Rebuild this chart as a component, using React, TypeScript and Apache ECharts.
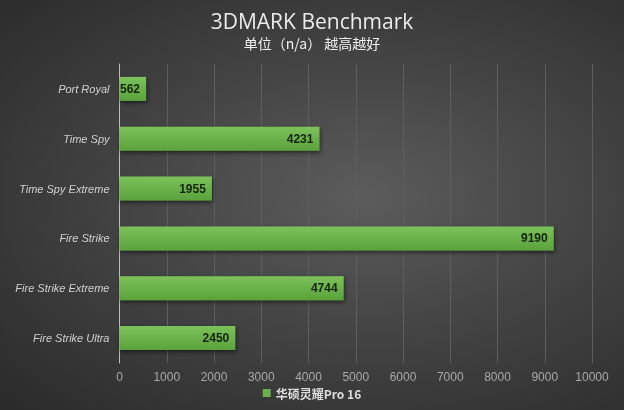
import React, { useEffect, useRef } from "react";
import * as echarts from "echarts";

const categories = ["Port Royal", "Time Spy", "Time Spy Extreme", "Fire Strike", "Fire Strike Extreme", "Fire Strike Ultra"];
const values = [562, 4231, 1955, 9190, 4744, 2450];
const seriesName = "华硕灵耀Pro 16";
const titleText = "3DMARK Benchmark";
const subText = "单位（n/a） 越高越好";

export default function App() {
  const ref = useRef<HTMLDivElement>(null);
  useEffect(() => {
    const chart = echarts.init(ref.current!, null, { renderer: "svg" });
    chart.setOption({
      animation: false,
      title: {
        text: titleText,
        subtext: subText,
        left: "center",
        top: 5,
        itemGap: 5,
        textStyle: { color: "#ececec", fontSize: 21, fontWeight: "normal", fontFamily: "Open Sans, sans-serif" },
        subtextStyle: { color: "#f0f0f0", fontSize: 14, fontFamily: "Noto Sans CJK SC, sans-serif" },
      },
      legend: {
        bottom: 6,
        left: "center",
        itemWidth: 8,
        itemHeight: 8,
        icon: "rect",
        itemGap: 4,
        textStyle: { color: "#dddddd", fontSize: 12, fontWeight: "bold", fontFamily: "Noto Sans CJK SC, sans-serif" },
        data: [{ name: seriesName, itemStyle: { color: "#6ab04c" } }],
      },
      grid: { left: 119.5, right: 32, top: 64, bottom: 47, containLabel: false },
      xAxis: {
        type: "value",
        min: 0,
        max: 10000,
        interval: 1000,
        axisLine: { show: false },
        axisTick: { show: false },
        splitLine: { show: true, lineStyle: { color: "#5e5e5e", width: 1 } },
        axisLabel: {
          color: "#a8a8a8",
          fontSize: 12,
          margin: 8,
          fontFamily: "Liberation Sans, sans-serif",
          formatter: (v: number) => String(v),
        },
      },
      yAxis: {
        type: "category",
        inverse: true,
        data: categories,
        axisLine: { show: true, lineStyle: { color: "#bdbdbd", width: 1 } },
        axisTick: { show: false },
        axisLabel: { color: "#d0d0d0", fontSize: 11, fontStyle: "italic", margin: 10, fontFamily: "Liberation Sans, sans-serif" },
      },
      series: [
        {
          name: seriesName,
          type: "bar",
          data: values,
          barWidth: 24,
          itemStyle: {
            color: new echarts.graphic.LinearGradient(0, 0, 0, 1, [
              { offset: 0, color: "#7cc25a" },
              { offset: 1, color: "#5aa23c" },
            ]),
            shadowColor: "rgba(0,0,0,0.55)",
            shadowBlur: 4,
            shadowOffsetX: 1,
            shadowOffsetY: 2,
          },
          label: {
            show: true,
            position: "insideRight",
            distance: 6,
            color: "#16240e",
            fontWeight: "bold",
            fontSize: 12,
            fontFamily: "Liberation Sans, sans-serif",
          },
        },
      ],
    });
    return () => chart.dispose();
  }, []);
  return (
    <div
      ref={ref}
      style={{
        position: "fixed",
        left: 0,
        top: 0,
        width: 624,
        height: 410,
        background: "radial-gradient(ellipse at 58% 48%, #5c5c5c 0%, #444444 45%, #2a2a2a 100%)",
      }}
    />
  );
}
